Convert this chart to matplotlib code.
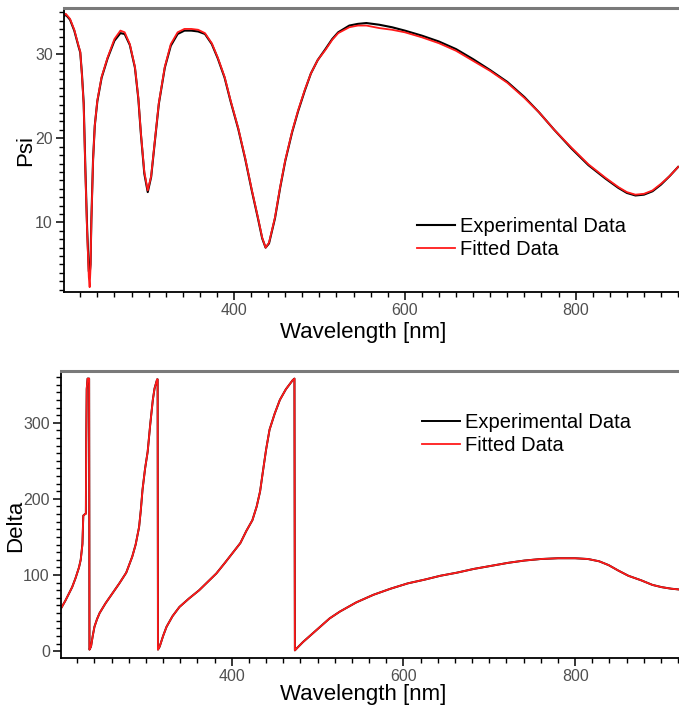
import numpy as np
import matplotlib
matplotlib.use('Agg')
import matplotlib.pyplot as plt
from matplotlib.ticker import MultipleLocator

plt.rcParams['font.family'] = ['Liberation Sans', 'DejaVu Sans']

# Psi spectrum (nm, degrees)
psi_wl = [200, 203, 208, 213, 218, 220, 222, 224, 226, 228, 230, 231, 232, 233,
          235, 237, 240, 245, 252, 260, 267, 272, 278, 284, 288, 291, 295, 299,
          303, 307, 312, 319, 326, 334, 342, 350, 358, 366, 374, 381, 389, 396,
          405, 413, 421, 428, 433, 437, 441, 448, 454, 460, 468, 475, 483, 490,
          498, 507, 515, 522, 535, 545, 555, 570, 585, 600, 620, 640, 660, 680,
          700, 720, 740, 757, 775, 795, 815, 835, 850, 860, 870, 880, 890, 900,
          910, 920]
psi_fit = [34.5, 34.8, 34.2, 32.9, 31.0, 30.3, 27.5, 24.0, 16.0, 9.0, 3.5, 2.3,
           4.5, 10.0, 17.4, 21.5, 24.5, 27.3, 29.6, 31.8, 32.8, 32.6, 31.2, 28.5,
           24.8, 20.6, 16.0, 13.8, 15.5, 19.4, 24.2, 28.5, 31.2, 32.6, 33.0, 33.0,
           32.9, 32.5, 31.3, 29.6, 27.3, 24.5, 21.2, 17.7, 13.8, 10.6, 8.2, 7.0,
           7.6, 10.6, 14.2, 17.4, 20.8, 23.3, 25.8, 27.7, 29.3, 30.5, 31.7, 32.5,
           33.2, 33.4, 33.4, 33.1, 32.9, 32.6, 32.0, 31.3, 30.4, 29.2, 28.0, 26.6,
           24.8, 23.1, 21.0, 18.9, 16.9, 15.3, 14.2, 13.6, 13.3, 13.4, 13.8, 14.6,
           15.5, 16.6]
psi_exp = [34.4, 34.7, 34.1, 32.8, 30.9, 30.2, 27.6, 24.2, 16.3, 9.4, 4.2, 3.9,
           5.0, 10.3, 17.5, 21.5, 24.4, 27.2, 29.5, 31.6, 32.5, 32.4, 31.1, 28.4,
           24.7, 20.5, 15.8, 13.6, 15.4, 19.3, 24.1, 28.4, 31.0, 32.4, 32.8, 32.8,
           32.7, 32.4, 31.2, 29.5, 27.2, 24.4, 21.1, 17.6, 13.7, 10.5, 8.1, 7.0,
           7.5, 10.5, 14.1, 17.3, 20.7, 23.2, 25.7, 27.7, 29.3, 30.6, 31.8, 32.6,
           33.4, 33.6, 33.7, 33.5, 33.2, 32.8, 32.2, 31.5, 30.6, 29.4, 28.1, 26.7,
           24.9, 23.1, 21.0, 18.8, 16.8, 15.2, 14.1, 13.5, 13.2, 13.3, 13.7, 14.5,
           15.5, 16.6]

# Delta spectrum (nm, degrees)
delta_wl = [201, 206, 210, 214, 218, 222, 224, 226, 227, 229, 230, 230.4, 231,
            232, 233.8, 234.2, 236, 238, 240, 243, 246, 253, 261, 269, 277, 284,
            288, 292, 294, 296, 299, 302, 305, 308, 310, 313, 313.6, 314, 316,
            320, 324, 331, 339, 350, 362, 372, 382, 392, 401, 410, 417, 424, 429,
            433, 436, 440, 444, 450, 456, 463, 471, 473, 473.5, 476, 483, 493,
            503, 514, 526, 545, 565, 585, 605, 625, 643, 662, 682, 702, 722, 741,
            760, 780, 800, 815, 828, 839, 850, 862, 877, 890, 901, 912, 921]
delta_fit = [56, 66, 75, 84, 96, 110, 120, 140, 178, 180, 180, 275, 345, 358,
             358, 2, 6, 20, 32, 42, 50, 63, 76, 89, 103, 124, 140, 163, 185, 212,
             240, 262, 298, 330, 345, 357, 357, 2, 6, 20, 32, 46, 58, 69, 80, 91,
             102, 116, 129, 142, 158, 172, 190, 210, 234, 265, 291, 312, 330, 344,
             356, 358, 1, 4, 12, 22, 32, 43, 52, 64, 74, 82, 89, 94, 99, 103, 108,
             112, 116, 119, 121, 122, 122, 121, 118, 113, 106, 99, 93, 87, 84, 82,
             81]
delta_exp = [56, 66, 75, 84, 96, 110, 120, 141, 178, 180, 181, 274, 344, 358,
             358, 2, 6, 20, 32, 42, 50, 63, 76, 89, 103, 124, 140, 163, 185, 212,
             240, 262, 298, 330, 345, 357, 357, 2, 6, 20, 32, 46, 58, 69, 80, 91,
             102, 116, 129, 142, 158, 172, 190, 210, 234, 265, 291, 312, 330, 344,
             356, 358, 1, 4, 12, 22, 32, 43, 52, 64, 74, 82, 89, 94, 99, 103, 108,
             112, 116, 119, 121, 122, 122, 121, 118, 113, 106, 99, 93, 87, 84, 82,
             81]

labels = ['Experimental Data', 'Fitted Data']
tick_grey = '#505050'
red = '#ff1a1a'


def style_axis(ax):
    ax.spines['right'].set_visible(False)
    ax.spines['top'].set_color('#7a7a7a')
    ax.spines['top'].set_linewidth(2.2)
    ax.spines['left'].set_linewidth(1.3)
    ax.spines['bottom'].set_linewidth(1.3)
    ax.tick_params(which='major', direction='out', length=6, width=1.1,
                   labelsize=11.5, labelcolor=tick_grey, pad=2)
    ax.tick_params(which='minor', direction='out', length=3.5, width=1.0)
    ax.tick_params(top=False, right=False, which='both')
    ax.xaxis.set_major_locator(MultipleLocator(200))
    ax.xaxis.set_minor_locator(MultipleLocator(20))
    ax.set_xlim(201, 921)


def add_legend(ax, anchor):
    ax.legend(loc='upper left', bbox_to_anchor=anchor, frameon=False,
              fontsize=14.5, handlelength=1.9, handletextpad=0.25,
              labelspacing=0.2, borderpad=0, borderaxespad=0)


fig = plt.figure(figsize=(6.79, 7.18), dpi=100)

# top panel: Psi
ax1 = fig.add_axes([0.0943, 0.593, 0.9057, 0.396])
ax1.plot(psi_wl, psi_exp, color='black', lw=1.5, label=labels[0])
ax1.plot(psi_wl, psi_fit, color=red, lw=1.3, label=labels[1])
style_axis(ax1)
ax1.set_ylim(1.7, 35.5)
ax1.yaxis.set_major_locator(MultipleLocator(10))
ax1.yaxis.set_minor_locator(MultipleLocator(1))
ax1.set_xlabel('Wavelength [nm]', fontsize=16)
ax1.set_ylabel('Psi', fontsize=16)
ax1.xaxis.set_label_coords(0.486, -0.105)
ax1.yaxis.set_label_coords(-0.045, 0.5)
add_legend(ax1, (0.574, 0.264))

# bottom panel: Delta
ax2 = fig.add_axes([0.0898, 0.0836, 0.9102, 0.3997])
ax2.plot(delta_wl, delta_exp, color='black', lw=1.4, label=labels[0])
ax2.plot(delta_wl, delta_fit, color=red, lw=1.3, label=labels[1])
style_axis(ax2)
ax2.set_ylim(-9, 368)
ax2.yaxis.set_major_locator(MultipleLocator(100))
ax2.yaxis.set_minor_locator(MultipleLocator(10))
ax2.set_xlabel('Wavelength [nm]', fontsize=16)
ax2.set_ylabel('Delta', fontsize=16)
ax2.xaxis.set_label_coords(0.489, -0.09)
ax2.yaxis.set_label_coords(-0.057, 0.46)
add_legend(ax2, (0.584, 0.853))

fig.savefig('out.png', dpi=100)
